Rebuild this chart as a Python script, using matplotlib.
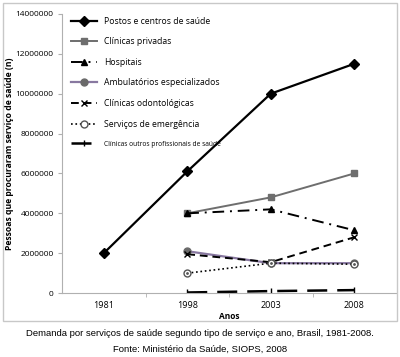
import matplotlib.pyplot as plt
from matplotlib.patches import Rectangle
import numpy as np

plt.rcParams['font.family'] = ['Open Sans', 'DejaVu Sans']

anos = ['1981', '1998', '2003', '2008']

postos = [2000000, 6100000, 10000000, 11500000]
privadas = [np.nan, 4000000, 4800000, 6000000]
hospitais = [np.nan, 4000000, 4200000, 3150000]
ambulatorios = [np.nan, 2100000, 1500000, 1500000]
odonto = [np.nan, 1950000, 1550000, 2800000]
emergencia = [np.nan, 1000000, 1500000, 1450000]
outros = [np.nan, 30000, 100000, 150000]

x = np.arange(len(anos))

fig = plt.figure(figsize=(4, 3.57), dpi=100)
fig.patches.append(Rectangle((0.008, 0.1), 0.984, 0.892, transform=fig.transFigure,
                             fill=False, edgecolor='#c8c8c8', linewidth=1))
ax = fig.add_axes([0.155, 0.179, 0.835, 0.782])

ax.plot(x, postos, color='black', lw=1.6, marker='D', ms=5, label='Postos e centros de saúde')
ax.plot(x, privadas, color='#6e6e6e', lw=1.4, marker='s', ms=5, label='Clínicas privadas')
ax.plot(x, hospitais, color='black', lw=1.4, ls=(0, (6, 3, 1, 3)), marker='^', ms=5, label='Hospitais')
ax.plot(x, ambulatorios, color='#8878a0', lw=1.6, marker='o', ms=5, mfc='#6a6a6a', mec='#6a6a6a',
        label='Ambulatórios especializados')
ax.plot(x, odonto, color='black', lw=1.4, ls=(0, (4, 2.5)), marker='x', ms=5, mew=1,
        label='Clínicas odontológicas')
ax.plot(x, emergencia, color='black', lw=1.2, ls=':', marker='o', ms=5, mfc='white', mec='#555555',
        label='Serviços de emergência')
ax.plot(x, emergencia, color='none', marker='.', ms=2, mfc='#555555', mec='#555555')
ax.plot(x, outros, color='black', lw=1.8, ls=(0, (8, 4)), marker='|', ms=5,
        label='Clínicas outros profissionais de saúde')

ax.set_xlim(-0.5, 3.5)
ax.set_ylim(0, 14000000)
ax.set_yticks(np.arange(0, 14000001, 2000000))
ax.set_yticklabels([str(v) for v in range(0, 14000001, 2000000)], fontsize=6)
ax.set_xticks(x)
ax.set_xticklabels(anos, fontsize=6.5)
ax.set_xticks([0.5, 1.5, 2.5], minor=True)
ax.tick_params(axis='x', which='major', length=0, pad=6)
ax.tick_params(axis='x', which='minor', length=3, color='#b0b0b0')
ax.tick_params(axis='y', length=3, color='#b0b0b0', pad=3)

for s in ['top', 'right']:
    ax.spines[s].set_visible(False)
ax.spines['left'].set_color('#b0b0b0')
ax.spines['bottom'].set_color('#b0b0b0')

ax.set_ylabel('Pessoas que procuraram serviço de saúde (n)', fontsize=6.2, fontweight='bold')
ax.yaxis.set_label_coords(-0.145, 0.5)
ax.set_xlabel('Anos', fontsize=6, fontweight='bold', labelpad=1)

leg = ax.legend(loc='upper left', bbox_to_anchor=(0.01, 1.012), fontsize=6.2, frameon=False,
                handlelength=3, labelspacing=1.35, borderaxespad=0.3)
leg.get_texts()[-1].set_fontsize(4.8)

fig.text(0.5, 0.067, 'Demanda por serviços de saúde segundo tipo de serviço e ano, Brasil, 1981-2008.',
         ha='center', va='center', fontsize=6.8, family='Liberation Sans')
fig.text(0.5, 0.022, 'Fonte: Ministério da Saúde, SIOPS, 2008',
         ha='center', va='center', fontsize=6.8, family='Liberation Sans')

fig.savefig('out.png', dpi=100)
